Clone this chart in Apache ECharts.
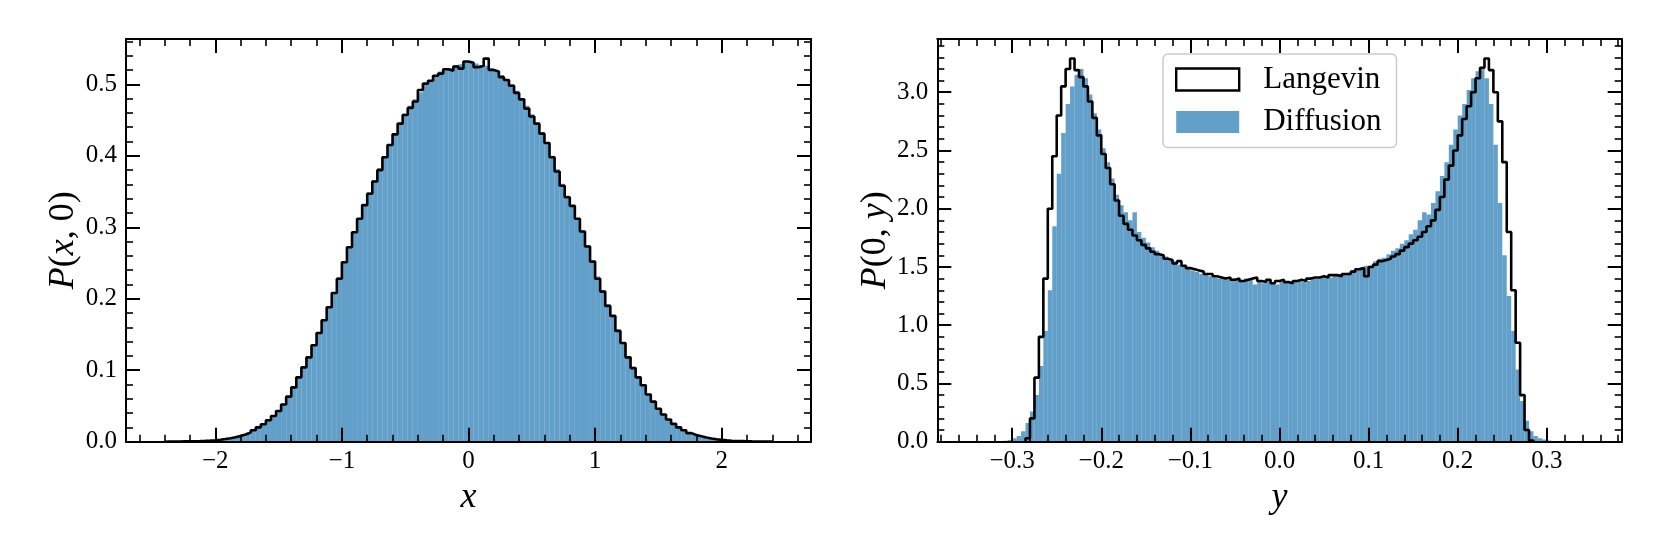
<!DOCTYPE html>
<html><head><meta charset="utf-8">
<script src="https://cdn.jsdelivr.net/npm/echarts@6/dist/echarts.min.js"></script>
<style>html,body{margin:0;padding:0;background:#fff}#chart{width:1661px;height:554px}</style>
</head><body><div id="chart"></div>
<script>
// ---------- DATA ----------
// Left panel: P(x,0), bins of width 0.04 starting at -2.4 (120 bins)
const leftBinStart = -2.4;
const leftBinWidth = 0.04;
const leftLangevin = [
 0.0002,0.0002,0.0003,0.0004,0.0005,0.0007,0.0009,0.0012,0.0016,0.0021,
 0.0028,0.0037,0.0049,0.0063,0.0080,0.0101,0.0127,0.0160,0.0200,0.0245,
 0.0300,0.0360,0.0430,0.0520,0.0630,0.0760,0.0900,0.1040,0.1180,0.1350,
 0.1520,0.1700,0.1880,0.2080,0.2280,0.2510,0.2720,0.2930,0.3120,0.3310,
 0.3470,0.3640,0.3800,0.3980,0.4150,0.4300,0.4450,0.4570,0.4670,0.4760,
 0.4920,0.5010,0.5050,0.5120,0.5150,0.5210,0.5190,0.5250,0.5220,0.5320,
 0.5300,0.5240,0.5260,0.5360,0.5200,0.5180,0.5100,0.5060,0.4980,0.4880,
 0.4790,0.4660,0.4550,0.4450,0.4310,0.4180,0.3980,0.3780,0.3580,0.3420,
 0.3300,0.3120,0.2940,0.2730,0.2520,0.2280,0.2100,0.1900,0.1760,0.1550,
 0.1380,0.1180,0.1030,0.0900,0.0790,0.0660,0.0560,0.0460,0.0380,0.0310,
 0.0250,0.0200,0.0160,0.0120,0.0095,0.0075,0.0058,0.0045,0.0034,0.0026,
 0.0019,0.0014,0.0010,0.0008,0.0006,0.0004,0.0003,0.0002,0.0002,0.0001
];
const leftDiffusion = [
 0.0003,0.0003,0.0004,0.0005,0.0006,0.0008,0.0010,0.0013,0.0017,0.0022,
 0.0029,0.0038,0.0050,0.0065,0.0082,0.0104,0.0130,0.0163,0.0204,0.0250,
 0.0305,0.0368,0.0440,0.0525,0.0630,0.0755,0.0895,0.1045,0.1190,0.1355,
 0.1525,0.1710,0.1890,0.2090,0.2300,0.2520,0.2730,0.2940,0.3130,0.3320,
 0.3490,0.3660,0.3830,0.3990,0.4160,0.4310,0.4460,0.4590,0.4700,0.4790,
 0.4890,0.4990,0.5060,0.5130,0.5180,0.5230,0.5230,0.5270,0.5280,0.5310,
 0.5300,0.5290,0.5270,0.5260,0.5230,0.5190,0.5130,0.5070,0.5000,0.4910,
 0.4810,0.4700,0.4580,0.4460,0.4330,0.4190,0.4000,0.3810,0.3610,0.3440,
 0.3300,0.3130,0.2950,0.2750,0.2540,0.2310,0.2120,0.1920,0.1770,0.1570,
 0.1390,0.1200,0.1050,0.0910,0.0790,0.0670,0.0565,0.0465,0.0385,0.0315,
 0.0255,0.0205,0.0162,0.0125,0.0098,0.0077,0.0060,0.0046,0.0035,0.0027,
 0.0020,0.0015,0.0011,0.0008,0.0006,0.0005,0.0004,0.0003,0.0002,0.0002
];
// Right panel: P(0,y), bins of width 0.005
const rightBinWidth = 0.005;
const rightLangevinStart = -0.285;   // 114 bins
const rightLangevin = [
 0.03,0.20,0.55,0.90,1.40,2.00,2.45,2.80,3.05,3.20,
 3.29,3.19,3.13,3.05,2.92,2.78,2.63,2.47,2.35,2.21,
 2.07,1.94,1.87,1.82,1.77,1.73,1.69,1.66,1.63,1.61,
 1.60,1.57,1.56,1.53,1.55,1.51,1.49,1.48,1.47,1.46,
 1.44,1.44,1.42,1.41,1.40,1.41,1.39,1.40,1.38,1.39,
 1.40,1.41,1.38,1.37,1.39,1.36,1.38,1.39,1.37,1.36,
 1.38,1.39,1.38,1.40,1.41,1.41,1.42,1.41,1.43,1.43,
 1.42,1.44,1.44,1.46,1.48,1.49,1.42,1.50,1.52,1.55,
 1.56,1.57,1.59,1.61,1.64,1.67,1.70,1.73,1.76,1.80,
 1.85,1.90,1.99,2.10,2.25,2.37,2.50,2.63,2.77,2.88,
 3.00,3.12,3.21,3.29,3.19,3.00,2.75,2.40,1.80,1.30,
 0.85,0.40,0.10,0.01
];
const rightDiffusionStart = -0.315;  // 126 bins
const rightDiffusion = [
 0.003,0.008,0.015,0.03,0.05,0.09,0.16,0.26,0.40,0.65,
 0.95,1.30,1.85,2.30,2.65,2.90,3.05,3.15,3.20,3.12,
 2.98,2.82,2.68,2.52,2.40,2.26,2.12,2.03,1.97,1.90,
 1.97,1.80,1.75,1.71,1.67,1.64,1.60,1.59,1.56,1.55,
 1.52,1.50,1.49,1.47,1.46,1.44,1.44,1.42,1.41,1.40,
 1.41,1.39,1.40,1.39,1.38,1.40,1.39,1.35,1.37,1.36,
 1.38,1.37,1.35,1.37,1.36,1.37,1.38,1.38,1.37,1.38,
 1.40,1.40,1.41,1.42,1.41,1.43,1.44,1.44,1.45,1.47,
 1.48,1.50,1.51,1.51,1.55,1.57,1.58,1.61,1.64,1.66,
 1.70,1.73,1.78,1.82,1.90,1.97,1.95,2.05,2.15,2.28,
 2.40,2.55,2.68,2.80,2.90,3.02,3.12,3.18,3.20,3.12,
 2.90,2.55,2.05,1.60,1.25,0.95,0.62,0.35,0.18,0.09,
 0.05,0.03,0.018,0.01,0.005,0.002
];
// Tick labels
const leftXTicks = [-2, -1, 0, 1, 2];
const leftYTicks = [0, 0.1, 0.2, 0.3, 0.4, 0.5];
const rightXTicks = [-0.3, -0.2, -0.1, 0, 0.1, 0.2, 0.3];
const rightYTicks = [0, 0.5, 1.0, 1.5, 2.0, 2.5, 3.0];
const seriesNames = ['Langevin', 'Diffusion'];

// ---------- HELPERS ----------
const FONT = "'Liberation Serif', 'DejaVu Serif', serif";
const BLUE = 'rgba(31,119,180,0.7)';
function r(v) { return Math.round(v * 1e6) / 1e6; }
function edgesOf(start, width, n) { const e = []; for (let i = 0; i <= n; i++) e.push(r(start + i * width)); return e; }
function barData(start, width, vals) {
  const e = edgesOf(start, width, vals.length);
  return vals.map((v, i) => [e[i], e[i + 1], v]);
}
function stepData(start, width, vals) {
  const e = edgesOf(start, width, vals.length);
  const d = [[e[0], 0]];
  vals.forEach((v, i) => d.push([e[i], v]));
  d.push([e[vals.length], vals[vals.length - 1]]);
  d.push([e[vals.length], 0]);
  return d;
}
function minorTicks(lo, hi, step, majors) {
  const out = [];
  const n0 = Math.ceil(lo / step - 1e-9), n1 = Math.floor(hi / step + 1e-9);
  for (let k = n0; k <= n1; k++) {
    const v = r(k * step);
    if (!majors.some(m => Math.abs(m - v) < 1e-9)) out.push(v);
  }
  return out;
}
const minus = s => s.replace('-', '\u2212');
const tickFmtInt = v => minus(String(Math.round(v)));
const tickFmt1 = v => minus(Number(v).toFixed(1));

const leftXRange = [-2.705, 2.705], leftYRange = [0, 0.5634];
const rightXRange = [-0.384, 0.384], rightYRange = [0, 3.457];

function axes(dim, gridIndex, range, majors, minorStep, fmt, name) {
  const minors = minorTicks(range[0], range[1], minorStep, majors);
  const posA = dim === 'x' ? 'bottom' : 'left';
  const posB = dim === 'x' ? 'top' : 'right';
  const base = { type: 'value', gridIndex, min: range[0], max: range[1], splitLine: { show: false }, z: 5 };
  const line = { show: true, onZero: false, lineStyle: { color: '#000', width: 2 } };
  const noLine = { show: false, onZero: false };
  const majorTick = { show: true, inside: true, length: 14, customValues: majors, lineStyle: { color: '#000', width: 2 } };
  const minorTick = { show: true, inside: true, length: 7, customValues: minors, lineStyle: { color: '#000', width: 1.6 } };
  const nameStyle = {
    fontFamily: FONT, fontSize: 36, color: '#000',
    rich: { i: { fontFamily: FONT, fontSize: 36, fontStyle: 'italic', color: '#000' },
            r: { fontFamily: FONT, fontSize: 36, color: '#000' } }
  };
  return [
    Object.assign({}, base, {
      position: posA, axisLine: line, axisTick: majorTick,
      axisLabel: { show: true, customValues: majors, formatter: fmt, fontFamily: FONT, fontSize: 25, color: '#000',
                   margin: dim === 'x' ? 7 : 9 },
      name, nameLocation: 'middle', nameGap: dim === 'x' ? 38 : 43, nameRotate: dim === 'x' ? 0 : 90,
      nameTextStyle: nameStyle
    }),
    Object.assign({}, base, { position: posA, axisLine: noLine, axisTick: minorTick, axisLabel: { show: false } }),
    Object.assign({}, base, { position: posB, axisLine: line, axisTick: majorTick, axisLabel: { show: false } }),
    Object.assign({}, base, { position: posB, axisLine: noLine, axisTick: minorTick, axisLabel: { show: false } })
  ];
}

function barRender(params, api) {
  const p0 = api.coord([api.value(0), api.value(2)]);
  const p1 = api.coord([api.value(1), 0]);
  return { type: 'rect', shape: { x: p0[0], y: p0[1], width: p1[0] - p0[0], height: p1[1] - p0[1] },
           style: { fill: BLUE } };
}

const xAxis = [].concat(
  axes('x', 0, leftXRange, leftXTicks, 0.2, tickFmtInt, '{i|x}'),
  axes('x', 1, rightXRange, rightXTicks, 0.02, tickFmt1, '{i|y}')
);
const yAxis = [].concat(
  axes('y', 0, leftYRange, leftYTicks, 0.02, tickFmt1, '{i|P}{r|(}{i|x}{r|, 0)}'),
  axes('y', 1, rightYRange, rightYTicks, 0.1, tickFmt1, '{i|P}{r|(0, }{i|y}{r|)}')
);

const option = {
  animation: false,
  backgroundColor: '#fff',
  grid: [
    { left: 126, top: 39, width: 685, height: 402.7, containLabel: false, outerBoundsMode: 'none' },
    { left: 937.3, top: 39, width: 684.4, height: 402.7, containLabel: false, outerBoundsMode: 'none' }
  ],
  xAxis, yAxis,
  legend: {
    show: true, selectedMode: false, orient: 'vertical', left: 1163, top: 54, z: 10,
    padding: [10, 15, 10, 12], itemGap: 11.5, itemWidth: 63, itemHeight: 22,
    backgroundColor: 'rgba(255,255,255,0.8)', borderColor: '#cccccc', borderWidth: 1.5, borderRadius: 5,
    textStyle: { fontFamily: FONT, fontSize: 31, color: '#000', lineHeight: 31, padding: [0, 0, 0, 19] },
    data: [
      { name: seriesNames[0], icon: 'rect', itemStyle: { color: '#ffffff', borderColor: '#000', borderWidth: 2.4 } },
      { name: seriesNames[1], icon: 'rect', itemStyle: { color: BLUE, borderWidth: 0 } }
    ]
  },
  series: [
    { name: seriesNames[1], type: 'custom', xAxisIndex: 0, yAxisIndex: 0, renderItem: barRender,
      itemStyle: { color: BLUE }, data: barData(leftBinStart, leftBinWidth, leftDiffusion), z: 1, clip: true },
    { name: seriesNames[0], type: 'line', xAxisIndex: 0, yAxisIndex: 0, step: 'end', showSymbol: false, symbol: 'none',
      lineStyle: { color: '#000', width: 2.6 }, itemStyle: { color: '#000' },
      data: stepData(leftBinStart, leftBinWidth, leftLangevin), z: 3 },
    { name: seriesNames[1], type: 'custom', xAxisIndex: 4, yAxisIndex: 4, renderItem: barRender,
      itemStyle: { color: BLUE }, data: barData(rightDiffusionStart, rightBinWidth, rightDiffusion), z: 1, clip: true },
    { name: seriesNames[0], type: 'line', xAxisIndex: 4, yAxisIndex: 4, step: 'end', showSymbol: false, symbol: 'none',
      lineStyle: { color: '#000', width: 2.6 }, itemStyle: { color: '#000' },
      data: stepData(rightLangevinStart, rightBinWidth, rightLangevin), z: 3 }
  ]
};
const chart = echarts.init(document.getElementById('chart'), null, { renderer: 'canvas' });
chart.setOption(option);
</script>
</body></html>
